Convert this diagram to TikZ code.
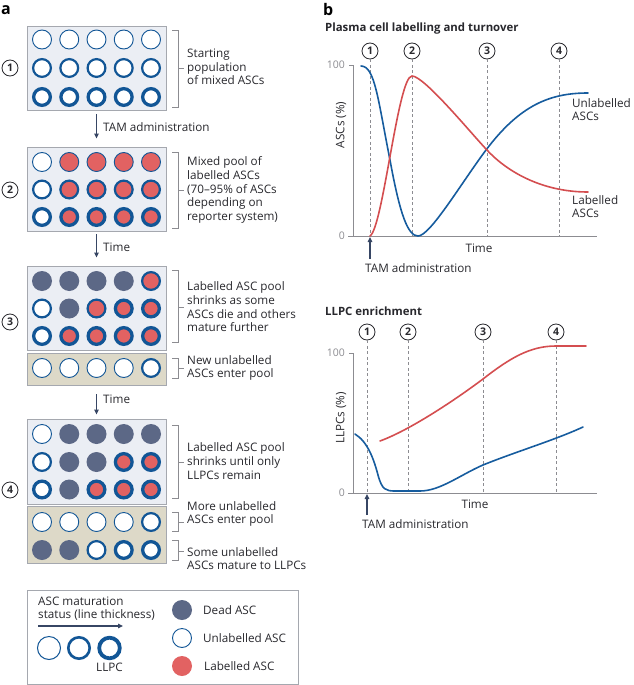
\documentclass[tikz,border=0pt]{standalone}
\usepackage{fontspec}
\setmainfont{Open Sans}
\usetikzlibrary{arrows.meta}
\definecolor{cblue}{RGB}{18,86,150}
\definecolor{cred}{RGB}{226,98,98}
\definecolor{cdead}{RGB}{92,104,134}
\definecolor{boxfill}{RGB}{235,238,244}
\definecolor{boxline}{RGB}{165,168,175}
\definecolor{beige}{RGB}{221,217,200}
\definecolor{ctext}{RGB}{40,40,45}
\definecolor{arrcol}{RGB}{55,70,100}
\definecolor{axcol}{RGB}{140,140,145}
\definecolor{curblue}{RGB}{22,92,158}
\definecolor{curred}{RGB}{212,78,80}
\newcommand{\crow}[6]{%
  \path[#2] (42,#1) circle; \path[#3] (69.25,#1) circle; \path[#4] (96.5,#1) circle;
  \path[#5] (123.75,#1) circle; \path[#6] (151,#1) circle;}
\newcommand{\brk}[3]{%
  \draw[brkline] (172,#1) -- (178,#1) -- (178,#2) -- (172,#2);
  \draw[brkline] (178,#3) -- (184,#3);}
\begin{document}
\begin{tikzpicture}[x=1pt,y=-1pt,
  u1/.style={draw=cblue,line width=0.9pt,fill=white,radius=9.5pt},
  u2/.style={draw=cblue,line width=2.2pt,fill=white,radius=8.9pt},
  u3/.style={draw=cblue,line width=3.3pt,fill=white,radius=8.35pt},
  l1/.style={draw=cblue,line width=0.9pt,fill=cred,radius=9.5pt},
  l2/.style={draw=cblue,line width=2.2pt,fill=cred,radius=8.9pt},
  l3/.style={draw=cblue,line width=3.3pt,fill=cred,radius=8.35pt},
  dd/.style={fill=cdead,radius=10pt},
  greybox/.style={draw=boxline,line width=0.8pt,fill=boxfill,minimum width=139pt,inner sep=0},
  beigebox/.style={draw=boxline,line width=0.8pt,fill=beige,minimum width=139pt,inner sep=0},
  brkline/.style={draw=axcol,line width=0.7pt},
  txt/.style={font=\fontsize{11.7}{13.7}\selectfont,text=ctext,align=left,anchor=west,inner sep=0},
  num/.style={circle,draw=ctext,line width=0.8pt,fill=white,minimum size=16pt,inner sep=0,font=\fontsize{10.5}{10}\selectfont\bfseries,text=ctext},
  arr/.style={draw=arrcol,line width=1.2pt,-{Triangle[length=5pt,width=4.5pt]}},
  dashln/.style={draw=axcol,line width=0.7pt,dash pattern=on 3pt off 2.5pt},
  axln/.style={draw=axcol,line width=0.8pt},
  ticklbl/.style={font=\fontsize{10.5}{10}\selectfont,text=axcol,inner sep=0,anchor=east},
  ttl/.style={font=\fontsize{11.4}{12}\selectfont\bfseries,text=ctext,anchor=west,inner sep=0},
  lbl/.style={font=\fontsize{11.7}{12}\selectfont,text=ctext,inner sep=0},
  curve/.style={line width=1.6pt,line cap=round}
]
\useasboundingbox (0,0) rectangle (634,685);

% ---------- panel a ----------
\node[font=\fontsize{16}{16}\selectfont\bfseries,anchor=west,inner sep=0] (la) at (1,10) {a};

% box 1
\node[greybox,minimum height=84pt] (b1) at (96.5,68.5) {};
\crow{39.5}{u1}{u1}{u1}{u1}{u1}
\crow{68}{u2}{u2}{u2}{u2}{u2}
\crow{97}{u3}{u3}{u3}{u3}{u3}
\node[num] (n1) at (10,68) {1};
\brk{30}{107}{68}
\node[txt] (t1) at (187,67) {Starting\\population\\of mixed ASCs};

% box 2
\node[greybox,minimum height=84pt] (b2) at (96.5,189) {};
\crow{162}{u1}{l1}{l1}{l1}{l1}
\crow{189.5}{u2}{l2}{l2}{l2}{l2}
\crow{217}{u3}{l3}{l3}{l3}{l3}
\node[num] (n2) at (10,190) {2};
\brk{152}{228}{190}
\node[txt] (t2) at (187,190) {Mixed pool of\\labelled ASCs\\(70--95\% of ASCs\\depending on\\reporter system)};

% box 3
\node[greybox,minimum height=84pt] (b3) at (96.5,308) {};
\crow{281}{dd}{dd}{dd}{dd}{l2}
\crow{308.5}{u2}{dd}{l2}{l3}{l3}
\crow{336}{u3}{l3}{l3}{l3}{l3}
\node[beigebox,minimum height=32pt] (b3b) at (96.5,369) {};
\crow{368}{u1}{u1}{u1}{u1}{u2}
\node[num] (n3) at (10,322) {3};
\brk{270}{342}{307}
\node[txt] (t3) at (187,307) {Labelled ASC pool\\shrinks as some\\ASCs die and others\\mature further};
\brk{358}{378}{368}
\node[txt] (t3b) at (187,368) {New unlabelled\\ASCs enter pool};

% box 4
\node[greybox,minimum height=85pt] (b4) at (96.5,461.5) {};
\crow{434}{u1}{dd}{dd}{dd}{dd}
\crow{462}{u2}{dd}{dd}{l3}{l3}
\crow{489.5}{u3}{dd}{l3}{l3}{l3}
\node[beigebox,minimum height=57pt] (b4b) at (96.5,535) {};
\crow{522}{u1}{u1}{u1}{u1}{u2}
\crow{550}{dd}{dd}{u2}{u3}{u3}
\node[num] (n4) at (10,490) {4};
\brk{425}{498}{462}
\node[txt] (t4) at (187,461) {Labelled ASC pool\\shrinks until only\\LLPCs remain};
\brk{512}{531}{522}
\node[txt] (t4b) at (187,514) {More unlabelled\\ASCs enter pool};
\brk{540}{560}{551}
\node[txt] (t4c) at (187,558.5) {Some unlabelled\\ASCs mature to LLPCs};

% arrows between boxes
\draw[arr,shorten <=3pt,shorten >=8pt] (b1.south) -- (b2.north);
\node[txt] (ta1) at (103,127) {TAM administration};
\draw[arr,shorten <=3pt,shorten >=8pt] (b2.south) -- (b3.north);
\node[txt] (ta2) at (103,247) {Time};
\draw[arr,shorten <=9pt,shorten >=4pt] (b3b.south) -- (b4.north);
\node[txt] (ta3) at (103,399) {Time};

% legend
\node[draw=boxline,line width=0.8pt,fill=white,minimum width=271pt,minimum height=94pt,inner sep=0] (leg) at (162.5,637) {};
\node[txt] (lt) at (38,608.5) {ASC maturation\\status (line thickness)};
\coordinate (la1) at (38,626);
\coordinate (la2) at (123,626);
\draw[draw=arrcol,line width=1.1pt,-{Triangle[length=5pt,width=4.5pt]}] (la1) -- (la2);
\draw[draw=cblue,line width=1pt,fill=white] (49,648) circle[radius=11.5pt];
\draw[draw=cblue,line width=2.6pt,fill=white] (79,648) circle[radius=10.7pt];
\draw[draw=cblue,line width=3.8pt,fill=white] (109.5,648) circle[radius=10.3pt];
\node[txt,anchor=center] (llpc) at (109.5,667) {LLPC};
\fill[cdead] (182,610) circle[radius=10pt];
\draw[draw=cblue,line width=0.9pt,fill=white] (182,638) circle[radius=9.5pt];
\fill[cred] (182,666) circle[radius=10pt];
\node[txt] (ld) at (203,610) {Dead ASC};
\node[txt] (lu) at (203,638) {Unlabelled ASC};
\node[txt] (ll) at (204,666) {Labelled ASC};

% ---------- panel b ----------
\node[font=\fontsize{16}{16}\selectfont\bfseries,anchor=west,inner sep=0] (lb) at (323,10) {b};
\node[ttl] (tb1) at (325,29) {Plasma cell labelling and turnover};

% chart 1
\foreach \xx/\nn in {370/1,412/2,487/3,559/4}{
  \node[num] (c1n\nn) at (\xx,51) {\nn};
  \draw[dashln] (c1n\nn.south) -- (\xx,236);
}
\draw[axln] (349,65) -- (353,65) -- (353,236);
\draw[axln] (348,236) -- (597,236);
\node[ticklbl] (c1y100) at (345,65) {100};
\node[ticklbl] (c1y0) at (345,236) {0};
\node[lbl,rotate=90] (c1yl) at (341,125) {ASCs (\%)};
\node[lbl] (c1xl) at (479,248) {Time};
\draw[curve,curblue] (361,66) .. controls (375,66) and (378,100) .. (390,160)
  .. controls (400,215) and (408,236) .. (418,236)
  .. controls (430,236) and (460,185) .. (486,150)
  .. controls (520,105) and (550,93) .. (588,93);
\draw[curve,curred] (370,236) .. controls (383,228) and (398,76) .. (412,76)
  .. controls (424,76) and (470,132) .. (486,149)
  .. controls (505,170) and (540,192) .. (588,192);
\node[txt] (c1u) at (572,109.5) {Unlabelled\\ASCs};
\node[txt] (c1l) at (572,206.5) {Labelled\\ASCs};
\coordinate (c1a0) at (370,259);
\coordinate (c1a1) at (370,237);
\draw[arr] (c1a0) -- (c1a1);
\node[txt] (c1tam) at (365,268) {TAM administration};

% chart 2
\node[ttl] (tb2) at (325,311) {LLPC enrichment};
\foreach \xx/\nn in {367/1,408/2,483/3,556/4}{
  \node[num] (c2n\nn) at (\xx,332) {\nn};
  \draw[dashln] (c2n\nn.south) -- (\xx,493);
}
\draw[axln] (349,353) -- (353,353) -- (353,493);
\draw[axln] (348,493) -- (597,493);
\node[ticklbl] (c2y100) at (345,353) {100};
\node[ticklbl] (c2y0) at (345,493) {0};
\node[lbl,rotate=90] (c2yl) at (341,418) {LLPCs (\%)};
\node[lbl] (c2xl) at (475,504) {Time};
\draw[curve,curred] (380,441) .. controls (410,430) and (455,400) .. (483,379)
  .. controls (510,358) and (530,346) .. (556,346) -- (586,346);
\draw[curve,curblue] (355,434) .. controls (368,442) and (374,460) .. (378,475)
  .. controls (382,490) and (386,491) .. (395,491) -- (420,491)
  .. controls (440,491) and (460,475) .. (483,465)
  .. controls (515,452) and (555,440) .. (583,427);
\coordinate (c2a0) at (367,515);
\coordinate (c2a1) at (367,494);
\draw[arr] (c2a0) -- (c2a1);
\node[txt] (c2tam) at (362,524) {TAM administration};
\end{tikzpicture}
\end{document}
